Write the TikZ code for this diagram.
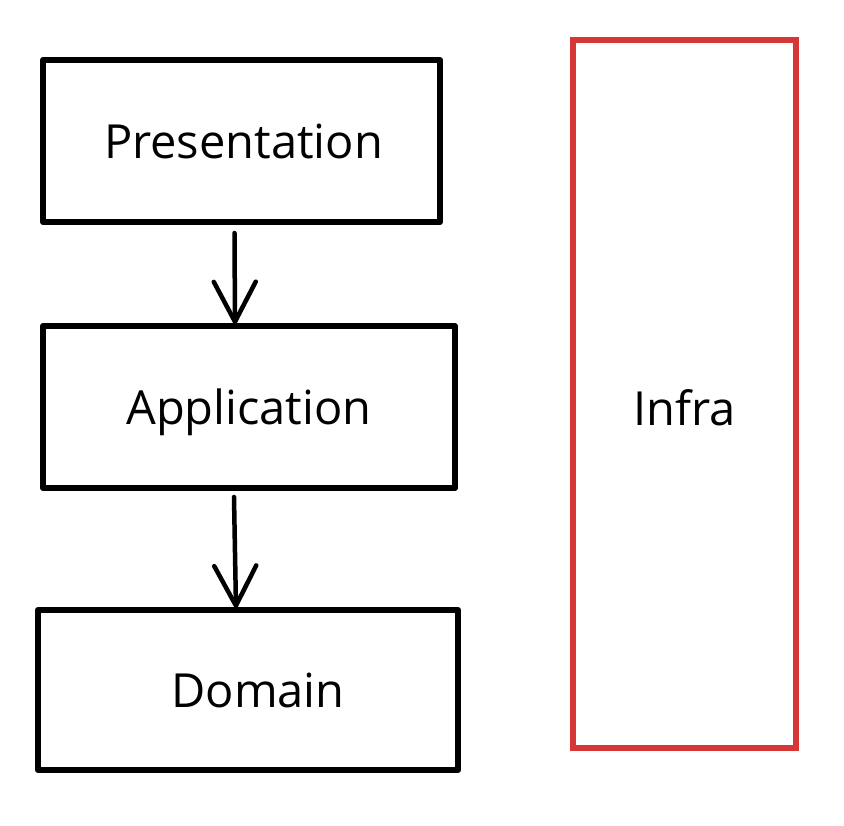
\documentclass[tikz,border=0pt]{standalone}
\usepackage{fontspec}
\setmainfont{Open Sans}
\usetikzlibrary{arrows.meta}
\definecolor{infrared}{HTML}{D63636}
\tikzset{
  boxtext/.style={font=\fontsize{47}{56}\selectfont, inner sep=0pt},
  layer/.style={draw=black, line width=6pt, rectangle, inner sep=0pt, line join=round},
  infrabox/.style={draw=infrared, line width=6.5pt, rectangle, inner sep=0pt},
  arr/.style={line width=4.5pt, line cap=round, line join=round, -{Straight Barb[length=40pt,width=42pt,round]}}
}
\begin{document}
\begin{tikzpicture}[x=1pt,y=-1pt]
\useasboundingbox (0,0) rectangle (844,826);
\node[layer, minimum width=397pt, minimum height=162pt] (pres) at (241.5,141) {};
\node[layer, minimum width=412pt, minimum height=162pt] (app) at (249,407) {};
\node[layer, minimum width=420pt, minimum height=160pt] (dom) at (248,690) {};
\node[infrabox, minimum width=223pt, minimum height=708pt] (infra) at (684.5,394) {};
\node[boxtext] (prest) at ([xshift=2pt]pres.center) {Presentation};
\node[boxtext] (appt) at ([yshift=-5pt]app.center) {Application};
\node[boxtext] (domt) at ([xshift=10pt]dom.center) {Domain};
\node[boxtext] (infrat) at ([yshift=-14pt]infra.center) {Infra};
\draw[arr] ([xshift=-7pt,yshift=-8pt]pres.south) -- ([xshift=-14pt,yshift=-1pt]app.north);
\draw[arr] ([xshift=-15pt,yshift=-6pt]app.south) -- ([xshift=-12pt,yshift=-1pt]dom.north);
\end{tikzpicture}
\end{document}
